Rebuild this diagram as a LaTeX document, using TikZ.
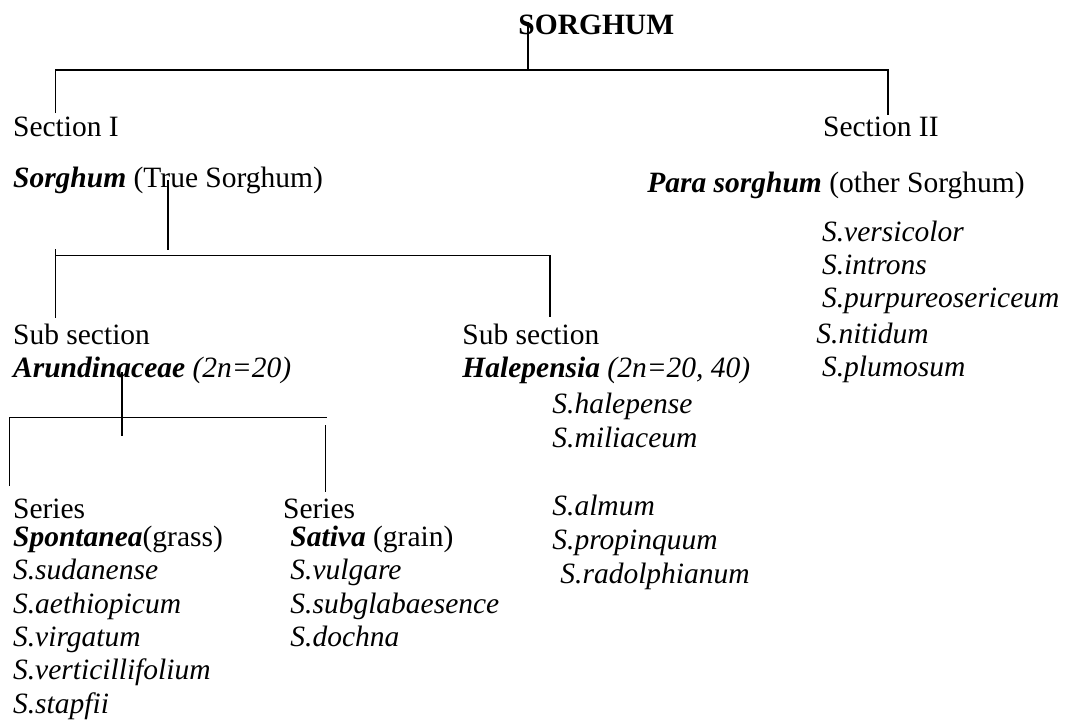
\documentclass[tikz,border=0pt]{standalone}
\usepackage{fontspec}
\setmainfont{Liberation Serif}
\begin{document}
\begin{tikzpicture}[x=0.5pt,y=-0.5pt,
	txt/.style={anchor=base west,inner sep=0pt,font=\fontsize{14.75}{17}\selectfont},
	bar/.style={line width=0.7pt}]
	
	\useasboundingbox (0,0) rectangle (1070,725);
	
	% top level
	\node [txt] (root) at (518,34) {\textbf{SORGHUM}};
	\node [txt] (secI) at (12.7,136) {Section I};
	\node [txt] (secII) at (822.7,136) {Section II};
	\node [txt] (sorg) at (12.7,187) {\textbf{\textit{Sorghum}} (True Sorghum)};
	\node [txt,anchor=base east] (para) at (1025,192) {\textbf{\textit{Para sorghum}} (other Sorghum)};
	
	\coordinate (r1) at (528,22);
	\coordinate (r2) at (528,70);
	\coordinate (l1) at (55.7,70);
	\coordinate (l2) at (55.7,113);
	\coordinate (q1) at (888,70);
	\coordinate (q2) at (888,115);
	\draw [bar] (r1) -- (r2);
	\draw [bar] (l2) -- (l1) -- (q1) -- (q2);
	
	% section I
	\node [txt] (subA) at (12.7,344) {Sub section};
	\node [txt] (arun) at (12.7,377) {\textbf{\textit{Arundinaceae}} \textit{(2n=20)}};
	\node [txt] (subH) at (462,344) {Sub section};
	\node [txt] (hale) at (462,377) {\textbf{\textit{Halepensia}} \textit{(2n=20, 40)}};
	
	\coordinate (s1) at (168,180);
	\coordinate (s2) at (168,250);
	\coordinate (a0) at (55.7,249);
	\coordinate (a1) at (55.7,255.7);
	\coordinate (a2) at (55.7,318);
	\coordinate (h1) at (550,255.7);
	\coordinate (h2) at (550,317);
	\draw [bar] (s1) -- (s2);
	\draw [bar] (a0) -- (a2);
	\draw [bar] (a1) -- (h1) -- (h2);
	
	% series
	\node [txt] (serS) at (12.7,518) {Series};
	\node [txt] (spon) at (12.7,546) {\textbf{\textit{Spontanea}}(grass)};
	\node [txt] (serG) at (282.7,518) {Series};
	\node [txt] (sati) at (290,546) {\textbf{\textit{Sativa}} (grain)};
	
	\coordinate (t1) at (122,372);
	\coordinate (t2) at (122,436);
	\coordinate (u1) at (9.3,417.7);
	\coordinate (u2) at (9.3,486);
	\coordinate (w1) at (326.7,417.7);
	\coordinate (w2) at (325.7,425);
	\coordinate (w3) at (325.7,491.7);
	\draw [bar] (t1) -- (t2);
	\draw [bar] (u2) -- (u1) -- (w1);
	\draw [bar] (w2) -- (w3);
	
	% species
	\foreach \nm [count=\i] in {sudanense,aethiopicum,virgatum,verticillifolium,stapfii}
		\node [txt] (spS\i) at (12.7,546.5+33.3*\i) {\textit{S.\nm}};
	\foreach \nm [count=\i] in {vulgare,subglabaesence,dochna}
		\node [txt] (spG\i) at (290,546.5+33.3*\i) {\textit{S.\nm}};
	\node [txt] (spH1) at (552,413) {\textit{S.halepense}};
	\node [txt] (spH2) at (552,447) {\textit{S.miliaceum}};
	\node [txt] (spH3) at (552,515) {\textit{S.almum}};
	\node [txt] (spH4) at (552,549) {\textit{S.propinquum}};
	\node [txt] (spH5) at (560,583) {\textit{S.radolphianum}};
	\node [txt] (spP1) at (821.7,241.7) {\textit{S.versicolor}};
	\node [txt] (spP2) at (821.7,274) {\textit{S.introns}};
	\node [txt] (spP3) at (821.7,307) {\textit{S.purpureosericeum}};
	\node [txt] (spP4) at (816,343) {\textit{S.nitidum}};
	\node [txt] (spP5) at (821.7,376) {\textit{S.plumosum}};
\end{tikzpicture}
\end{document}
